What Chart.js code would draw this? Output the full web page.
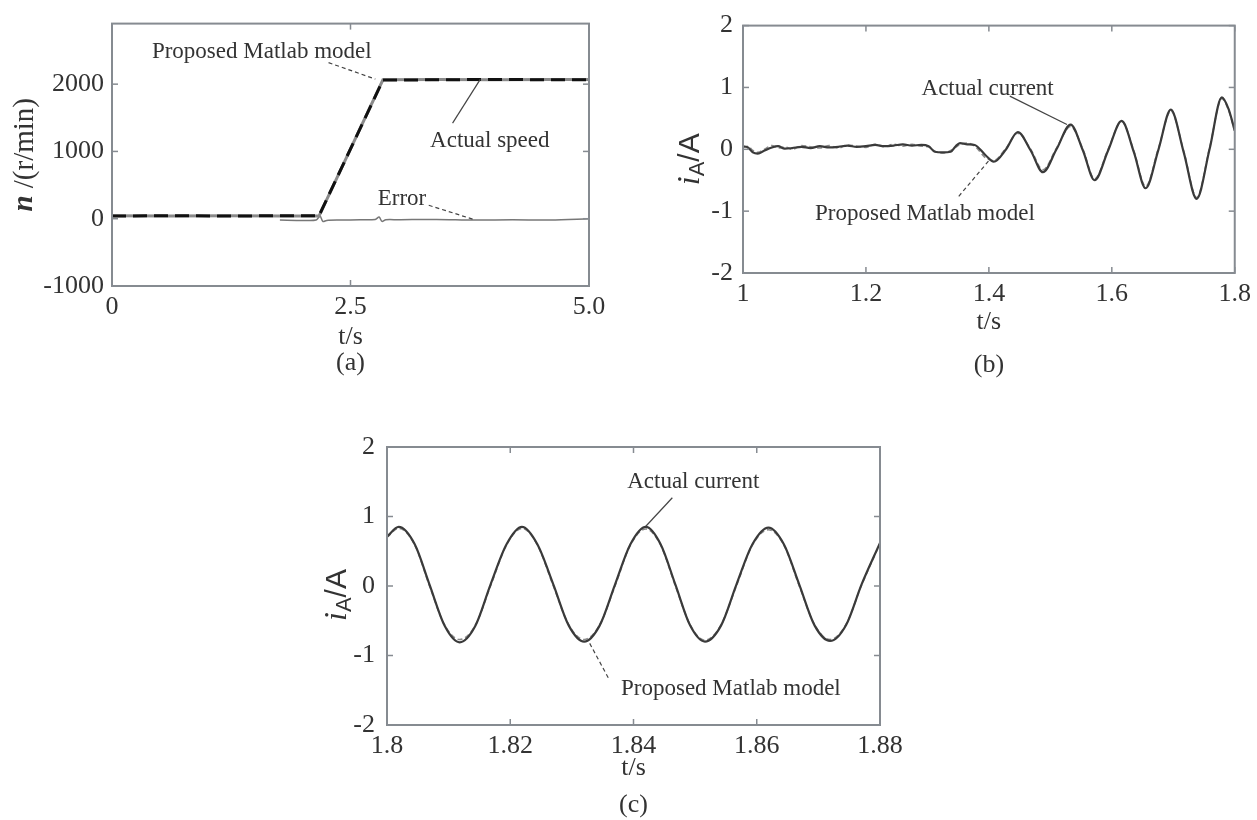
<!DOCTYPE html>
<html>
<head>
<meta charset="utf-8">
<script src="https://cdn.jsdelivr.net/npm/chart.js@4.4.1/dist/chart.umd.min.js"></script>
<style>
  html, body { margin: 0; padding: 0; background: #fff; }
  #page { position: relative; width: 1257px; height: 820px; overflow: hidden; background: #fff; }
  canvas { position: absolute; }
</style>
</head>
<body>
<div id="page">
  <canvas id="chartA" width="620" height="400" style="left:0px;top:0px;width:620px;height:400px"></canvas>
  <canvas id="chartB" width="617" height="400" style="left:640px;top:0px;width:617px;height:400px"></canvas>
  <canvas id="chartC" width="640" height="410" style="left:280px;top:410px;width:640px;height:410px"></canvas>
</div>
<script>
// -------------------------- look of the paper figure
const SERIF = '"Liberation Serif", "Times New Roman", serif';
const SANS = '"Liberation Sans", Arial, sans-serif';
const INK = '#333';
const BOX = '#868b91';

// -------------------------- (a) speed, t in s, n in r/min
const speedTime   = [0, 0.6, 1.2, 1.8, 2.17, 2.84, 3.4, 4.0, 4.6, 5.0];
const actualSpeed = [45, 40, 45, 40, 40, 2065, 2070, 2065, 2070, 2070];
const modelSpeed  = [40, 45, 40, 45, 45, 2060, 2065, 2070, 2065, 2065];
const errorTime   = [1.76, 2.0, 2.14, 2.18, 2.21, 2.25, 2.4, 2.6, 2.76, 2.8, 2.83, 2.87, 3.0, 3.4, 3.8, 4.2, 4.6, 5.0];
const speedError  = [-20, -25, -20, 40, -40, -25, -20, -15, -10, 25, -40, -15, -15, -10, -20, -15, -20, 0];
const ticksA_x = [0, 2.5, 5];
const labelsA_x = ['0', '2.5', '5.0'];
const ticksA_y = [-1000, 0, 1000, 2000];

// -------------------------- (b) phase current 1.0 .. 1.8 s
const timeB = [1.000, 1.008, 1.016, 1.024, 1.035, 1.047, 1.057, 1.068, 1.080, 1.095, 1.110, 1.125,
               1.140, 1.155, 1.170, 1.185, 1.200, 1.215, 1.230, 1.245, 1.260, 1.275, 1.290, 1.302,
               1.312, 1.325, 1.338, 1.346, 1.353, 1.365, 1.377, 1.395, 1.408, 1.428, 1.447, 1.468,
               1.488, 1.510, 1.533, 1.553, 1.572, 1.594, 1.616, 1.636, 1.655, 1.676, 1.696, 1.717,
               1.738, 1.759, 1.779, 1.790, 1.800];
const actualCurrentB = [0.05, 0.03, -0.05, -0.07, -0.02, 0.03, 0.05, 0.01, 0.02, 0.04, 0.02, 0.05,
                        0.03, 0.04, 0.06, 0.04, 0.05, 0.07, 0.05, 0.06, 0.08, 0.06, 0.07, 0.05,
                        -0.04, -0.05, -0.04, 0.05, 0.1, 0.08, 0.07, -0.1, -0.2, 0.0, 0.28, -0.02,
                        -0.37, 0.0, 0.4, -0.02, -0.5, -0.02, 0.46, -0.05, -0.63, 0.0, 0.64, -0.05,
                        -0.8, 0.0, 0.84, 0.65, 0.3];
const modelCurrentB  = [0.03, 0.05, -0.02, -0.05, 0.0, 0.06, 0.02, 0.04, 0.0, 0.06, 0.04, 0.02,
                        0.06, 0.02, 0.07, 0.05, 0.03, 0.08, 0.04, 0.08, 0.05, 0.08, 0.05, 0.04,
                        -0.03, -0.06, -0.02, 0.03, 0.08, 0.1, 0.05, -0.14, -0.18, 0.02, 0.26, 0.0,
                        -0.33, 0.02, 0.37, 0.0, -0.48, 0.0, 0.45, -0.03, -0.6, 0.02, 0.62, -0.03,
                        -0.78, 0.02, 0.82, 0.63, 0.3];
const ticksB_x = [1, 1.2, 1.4, 1.6, 1.8];
const labelsB_x = ['1', '1.2', '1.4', '1.6', '1.8'];
const ticksB_y = [-2, -1, 0, 1, 2];

// -------------------------- (c) phase current 1.80 .. 1.88 s
const timeC = [1.8000, 1.8019, 1.8045, 1.8069, 1.8094, 1.8118, 1.8143, 1.8168, 1.8194, 1.8219,
               1.8244, 1.8270, 1.8295, 1.8320, 1.8345, 1.8370, 1.8395, 1.8420, 1.8444, 1.8468,
               1.8492, 1.8516, 1.8542, 1.8567, 1.8593, 1.8619, 1.8644, 1.8669, 1.8694, 1.8719,
               1.8745, 1.8770, 1.8800];
const actualCurrentC = [0.71, 0.85, 0.6, 0.02, -0.58, -0.81, -0.58, 0.02, 0.6, 0.85,
                        0.6, 0.02, -0.57, -0.80, -0.57, 0.02, 0.6, 0.85, 0.6, 0.02,
                        -0.57, -0.80, -0.57, 0.02, 0.6, 0.84, 0.6, 0.02, -0.57, -0.79,
                        -0.56, 0.02, 0.62];
const modelCurrentC  = [0.70, 0.83, 0.59, 0.0, -0.57, -0.77, -0.57, 0.0, 0.59, 0.83,
                        0.59, 0.0, -0.56, -0.77, -0.56, 0.0, 0.59, 0.82, 0.59, 0.0,
                        -0.56, -0.78, -0.56, 0.0, 0.59, 0.81, 0.59, 0.0, -0.56, -0.77,
                        -0.55, 0.01, 0.61];
const ticksC_x = [1.8, 1.82, 1.84, 1.86, 1.88];
const labelsC_x = ['1.8', '1.82', '1.84', '1.86', '1.88'];
const ticksC_y = [-2, -1, 0, 1, 2];

// --------------------------- Methods

function toPoints(xs, ys) {
    return xs.map((x, i) => ({x: x, y: ys[i]}));
}

// draws the MATLAB-like box, inward ticks, axis titles, caption and the callouts
const paperFigure = {
    id: 'paperFigure',
    afterDatasetsDraw(chart, args, opts) {
        const {ctx, chartArea: a} = chart;
        const xs = chart.scales.x, ys = chart.scales.y;
        const seg = (x1, y1, x2, y2) => { ctx.beginPath(); ctx.moveTo(x1, y1); ctx.lineTo(x2, y2); ctx.stroke(); };
        ctx.save();

        // inward tick marks on all four sides
        ctx.strokeStyle = BOX;
        ctx.lineWidth = 1.5;
        xs.ticks.forEach(t => {
            const px = xs.getPixelForValue(t.value);
            seg(px, a.bottom, px, a.bottom - 6);
            seg(px, a.top, px, a.top + 6);
        });
        ys.ticks.forEach(t => {
            const py = ys.getPixelForValue(t.value);
            seg(a.left, py, a.left + 6, py);
            seg(a.right, py, a.right - 6, py);
        });
        ctx.lineWidth = 2;
        ctx.strokeRect(a.left, a.top, a.right - a.left, a.bottom - a.top);

        // callouts
        ctx.fillStyle = INK;
        ctx.textAlign = 'center';
        ctx.textBaseline = 'middle';
        (opts.notes || []).forEach(n => {
            ctx.strokeStyle = '#444';
            ctx.lineWidth = 1.2;
            ctx.setLineDash(n.dashed ? [4, 3] : []);
            seg(xs.getPixelForValue(n.from[0]), ys.getPixelForValue(n.from[1]),
                xs.getPixelForValue(n.to[0]), ys.getPixelForValue(n.to[1]));
            ctx.setLineDash([]);
            ctx.font = '23px ' + SERIF;
            ctx.fillText(n.text, xs.getPixelForValue(n.at[0]), ys.getPixelForValue(n.at[1]));
        });

        // x title and caption
        const cx = (a.left + a.right) / 2;
        ctx.font = '26px ' + SERIF;
        ctx.fillText(opts.xTitle, cx, a.bottom + opts.xTitleGap);
        ctx.fillText(opts.caption, cx, a.bottom + opts.captionGap);

        // y title, rotated, built from parts (italic symbol, subscript ...)
        ctx.translate(a.left - opts.yTitleGap, (a.top + a.bottom) / 2);
        ctx.rotate(-Math.PI / 2);
        ctx.textAlign = 'left';
        let total = 0;
        opts.yTitle.forEach(p => { ctx.font = p.font; total += ctx.measureText(p.text).width; });
        let pos = -total / 2 + (opts.yTitleShift || 0);
        opts.yTitle.forEach(p => {
            ctx.font = p.font;
            ctx.fillText(p.text, pos, p.dy || 0);
            pos += ctx.measureText(p.text).width;
        });
        ctx.restore();
    }
};

function makeAxis(min, max, tickValues, labels, size, horizontal, pad) {
    return {
        type: 'linear',
        min: min,
        max: max,
        afterBuildTicks: (axis) => { axis.ticks = tickValues.map(v => ({value: v})); },
        afterFit: (axis) => { if (horizontal) { axis.height = size; } else { axis.width = size; } },
        grid: { display: false, drawTicks: false },
        border: { display: false },
        ticks: {
            autoSkip: false,
            maxRotation: 0,
            padding: pad,
            color: INK,
            font: { family: SERIF, size: 26 },
            callback: (val, index) => labels ? labels[index] : String(val),
        }
    };
}

function setupPanel(id, datasets, x, y, padding, figOpts) {
    return new Chart(document.getElementById(id), {
        type: 'line',
        data: { datasets: datasets },
        options: {
            responsive: false,
            animation: false,
            layout: { padding: padding },
            scales: { x: x, y: y },
            elements: { point: { radius: 0 } },
            plugins: {
                legend: { display: false },
                tooltip: { enabled: false },
                paperFigure: figOpts,
            },
        },
        plugins: [paperFigure],
    });
}

const currentTitle = [
    { text: 'i', font: 'italic 32px ' + SERIF },
    { text: 'A', font: '22px ' + SANS, dy: 7 },
    { text: '/A', font: '30px ' + SANS },
];

// (a)
setupPanel('chartA', [
    { label: 'Proposed Matlab model', data: toPoints(speedTime, modelSpeed), borderColor: '#111',
      borderWidth: 3, borderDash: [14, 7], tension: 0 },
    { label: 'Actual speed', data: toPoints(speedTime, actualSpeed), borderColor: '#8a8a8a',
      borderWidth: 3, tension: 0 },
    { label: 'Error', data: toPoints(errorTime, speedError), borderColor: '#777',
      borderWidth: 1.5, tension: 0.3 },
], makeAxis(0, 5, ticksA_x, labelsA_x, 114, true, 6),
   makeAxis(-1000, 2900, ticksA_y, null, 112, false, 8),
   { top: 12, right: 31, left: 0, bottom: 0 },
   {
       xTitle: 't/s', xTitleGap: 51, caption: '(a)', captionGap: 77,
       yTitleGap: 87, yTitle: [
           { text: 'n', font: 'italic bold 29px ' + SERIF },
           { text: ' /(r/min)', font: '29px ' + SERIF },
       ],
       notes: [
           { text: 'Proposed Matlab model', at: [1.57, 2480], from: [2.27, 2320], to: [2.76, 2075], dashed: true },
           { text: 'Actual speed', at: [3.96, 1160], from: [3.57, 1420], to: [3.86, 2070], dashed: false },
           { text: 'Error', at: [3.04, 300], from: [3.32, 200], to: [3.80, -15], dashed: true },
       ],
   });

// (b)
setupPanel('chartB', [
    { label: 'Actual current', data: toPoints(timeB, actualCurrentB), borderColor: '#3a3a3a',
      borderWidth: 2.2, cubicInterpolationMode: 'monotone' },
    { label: 'Proposed Matlab model', data: toPoints(timeB, modelCurrentB), borderColor: '#8a8a8a',
      borderWidth: 1.6, borderDash: [5, 3], cubicInterpolationMode: 'monotone' },
], makeAxis(1, 1.8, ticksB_x, labelsB_x, 127, true, 6),
   makeAxis(-2, 2, ticksB_y, null, 103, false, 10),
   { top: 21, right: 22, left: 0, bottom: 0 },
   {
       xTitle: 't/s', xTitleGap: 49, caption: '(b)', captionGap: 92,
       yTitleGap: 52, yTitleShift: -10, yTitle: currentTitle,
       notes: [
           { text: 'Actual current', at: [1.398, 0.97], from: [1.434, 0.86], to: [1.527, 0.40], dashed: false },
           { text: 'Proposed Matlab model', at: [1.296, -1.05], from: [1.351, -0.76], to: [1.402, -0.16], dashed: true },
       ],
   });

// (c)
setupPanel('chartC', [
    { label: 'Actual current', data: toPoints(timeC, actualCurrentC), borderColor: '#3a3a3a',
      borderWidth: 2.2, cubicInterpolationMode: 'monotone' },
    { label: 'Proposed Matlab model', data: toPoints(timeC, modelCurrentC), borderColor: '#8a8a8a',
      borderWidth: 1.6, borderDash: [5, 3], cubicInterpolationMode: 'monotone' },
], makeAxis(1.8, 1.88, ticksC_x, labelsC_x, 95, true, 6),
   makeAxis(-2, 2, ticksC_y, null, 107, false, 12),
   { top: 37, right: 40, left: 0, bottom: 0 },
   {
       xTitle: 't/s', xTitleGap: 43, caption: '(c)', captionGap: 80,
       yTitleGap: 49, yTitleShift: -9, yTitle: currentTitle,
       notes: [
           { text: 'Actual current', at: [1.8497, 1.50], from: [1.8463, 1.27], to: [1.8420, 0.86], dashed: false },
           { text: 'Proposed Matlab model', at: [1.8558, -1.48], from: [1.8359, -1.32], to: [1.8328, -0.81], dashed: true },
       ],
   });
</script>
</body>
</html>
